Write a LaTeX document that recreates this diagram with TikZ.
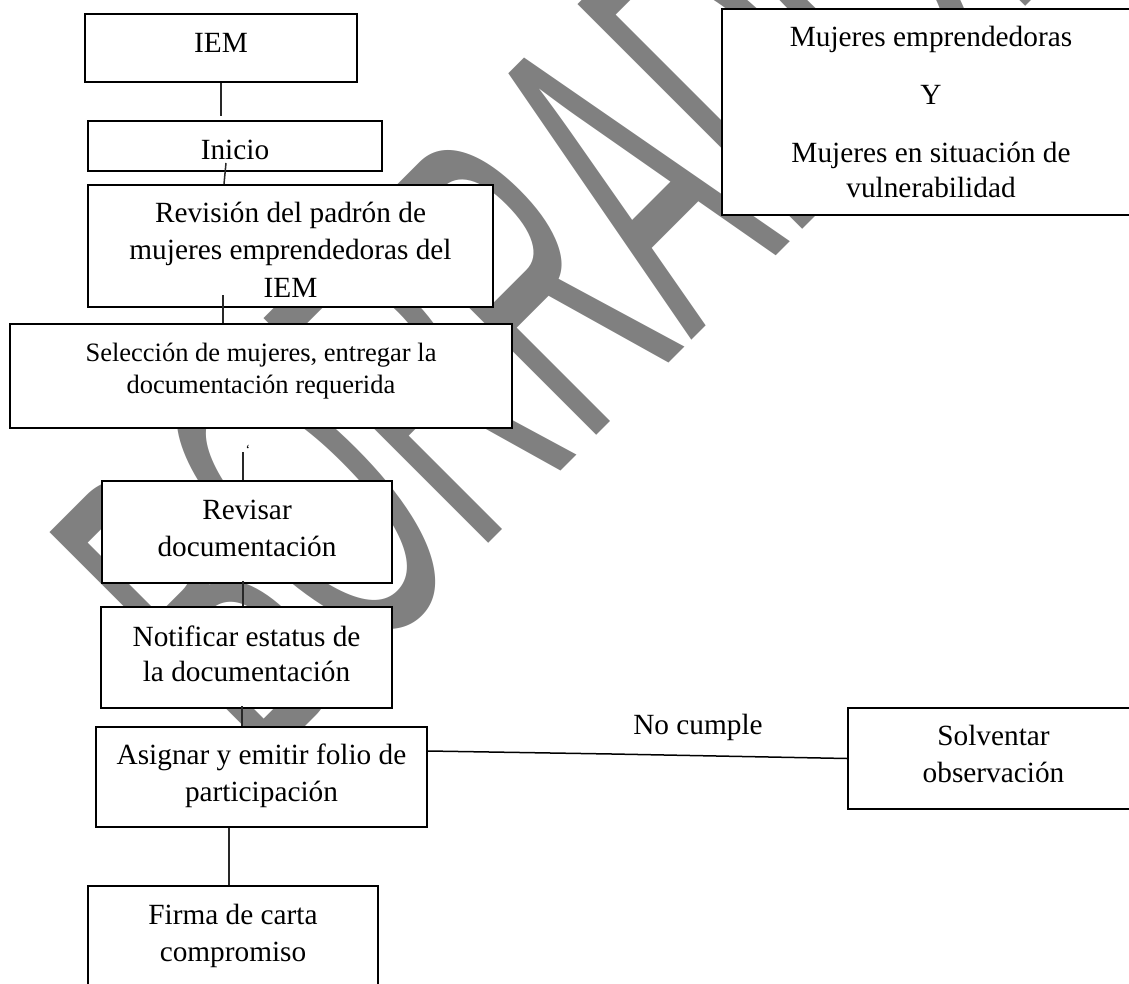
\documentclass[tikz,border=0pt]{standalone}
\usepackage{fontspec}
\usepackage{graphicx}
\setmainfont{Liberation Serif}
\newfontfamily\wmfont{Liberation Sans}
\usetikzlibrary{calc}
\definecolor{wmgray}{RGB}{128,128,128}
\definecolor{lineclr}{RGB}{40,40,40}
\tikzset{
  box/.style={draw=black, line width=2pt, fill=white, inner sep=0pt, align=center,
    font=\fontsize{29.3}{36.5}\selectfont, text depth=0pt},
  conn/.style={draw=lineclr, line width=1.5pt},
  wm/.style={anchor=base west, rotate=45, text=wmgray, inner sep=0pt,
    font=\wmfont\fontsize{462}{462}\selectfont},
  lbl/.style={font=\fontsize{29.3}{36.5}\selectfont, inner sep=0pt}
}
\begin{document}
\begin{tikzpicture}[x=1pt,y=-1pt]
\useasboundingbox (0,0) rectangle (1129,984);
\clip (0,0) rectangle (1129,984);
% watermark
\node[wm] (marca) at (262,770) {\scalebox{0.455}[1]{BORRADOR}};
% boxes
\node[box, minimum width=272pt, minimum height=68pt, text height=10pt] (iem) at (221,48) {IEM};
\node[box, minimum width=294pt, minimum height=50pt, text height=28pt] (inicio) at (235,146) {Inicio};
\node[box, minimum width=405pt, minimum height=122pt, text height=102pt,
  font=\fontsize{29.3}{37}\selectfont] (revision) at (290.5,246)
  {Revisión del padrón de\\ mujeres emprendedoras del\\ IEM};
\node[box, minimum width=502pt, minimum height=104pt, text height=34pt,
  font=\fontsize{26.5}{32}\selectfont] (seleccion) at (261,376)
  {Selección de mujeres, entregar la\\ documentación requerida};
\node[box, minimum width=290pt, minimum height=102pt, text height=48pt] (revisar) at (247,532)
  {Revisar\\ documentación};
\node[box, minimum width=291pt, minimum height=101pt, text height=47pt,
  font=\fontsize{29.3}{35}\selectfont] (notificar) at (246.5,657.5)
  {Notificar estatus de\\ la documentación};
\node[box, minimum width=331pt, minimum height=100pt, text height=48pt] (asignar) at (261.5,777)
  {Asignar y emitir folio de\\ participación};
\node[box, minimum width=290pt, minimum height=114pt, text height=36pt] (firma) at (233,943)
  {Firma de carta\\ compromiso};
\node[box, minimum width=291pt, minimum height=101pt, text height=47pt] (solventar) at (993.5,758.5)
  {Solventar\\ observación};
\node[box, minimum width=418pt, minimum height=206pt, text height=172pt,
  font=\fontsize{29.3}{35}\selectfont] (mujeres) at (931,112)
  {Mujeres emprendedoras\\[23pt] Y\\[23pt] Mujeres en situación de\\ vulnerabilidad};
% connectors
\draw[conn, shorten >=4pt] (iem.south) -- (iem.south |- inicio.north);
\coordinate (p1) at ($(inicio.south)+(-9,-9)$);
\coordinate (p1e) at ($(revision.north)+(-66.5,0)$);
\draw[conn] (p1) -- (p1e);
\coordinate (p2) at ($(revision.south)+(-67.5,-13)$);
\draw[conn] (p2) -- (p2 |- seleccion.north);
\coordinate (p3) at (243,452);
\draw[conn] (p3) -- (p3 |- revisar.north);
\node[inner sep=0pt, font=\fontsize{14}{14}\selectfont] (tick) at (248,450) {`};
\coordinate (p4) at ($(revisar.south)+(-4,-3)$);
\draw[conn] (p4) -- (p4 |- notificar.north);
\coordinate (p5) at ($(notificar.south)+(-4.5,-3)$);
\draw[conn] (p5) -- (p5 |- asignar.north);
\coordinate (p6) at ($(asignar.south)+(-32.5,0)$);
\draw[conn] (p6) -- (p6 |- firma.north);
\coordinate (p7) at ($(asignar.east)+(0,-26)$);
\coordinate (kink) at (612,754);
\draw[conn, draw=black] (p7) -- (kink) -- (solventar.west);
\node[lbl, anchor=base] (nocumple) at (698,734) {No cumple};
\end{tikzpicture}
\end{document}
